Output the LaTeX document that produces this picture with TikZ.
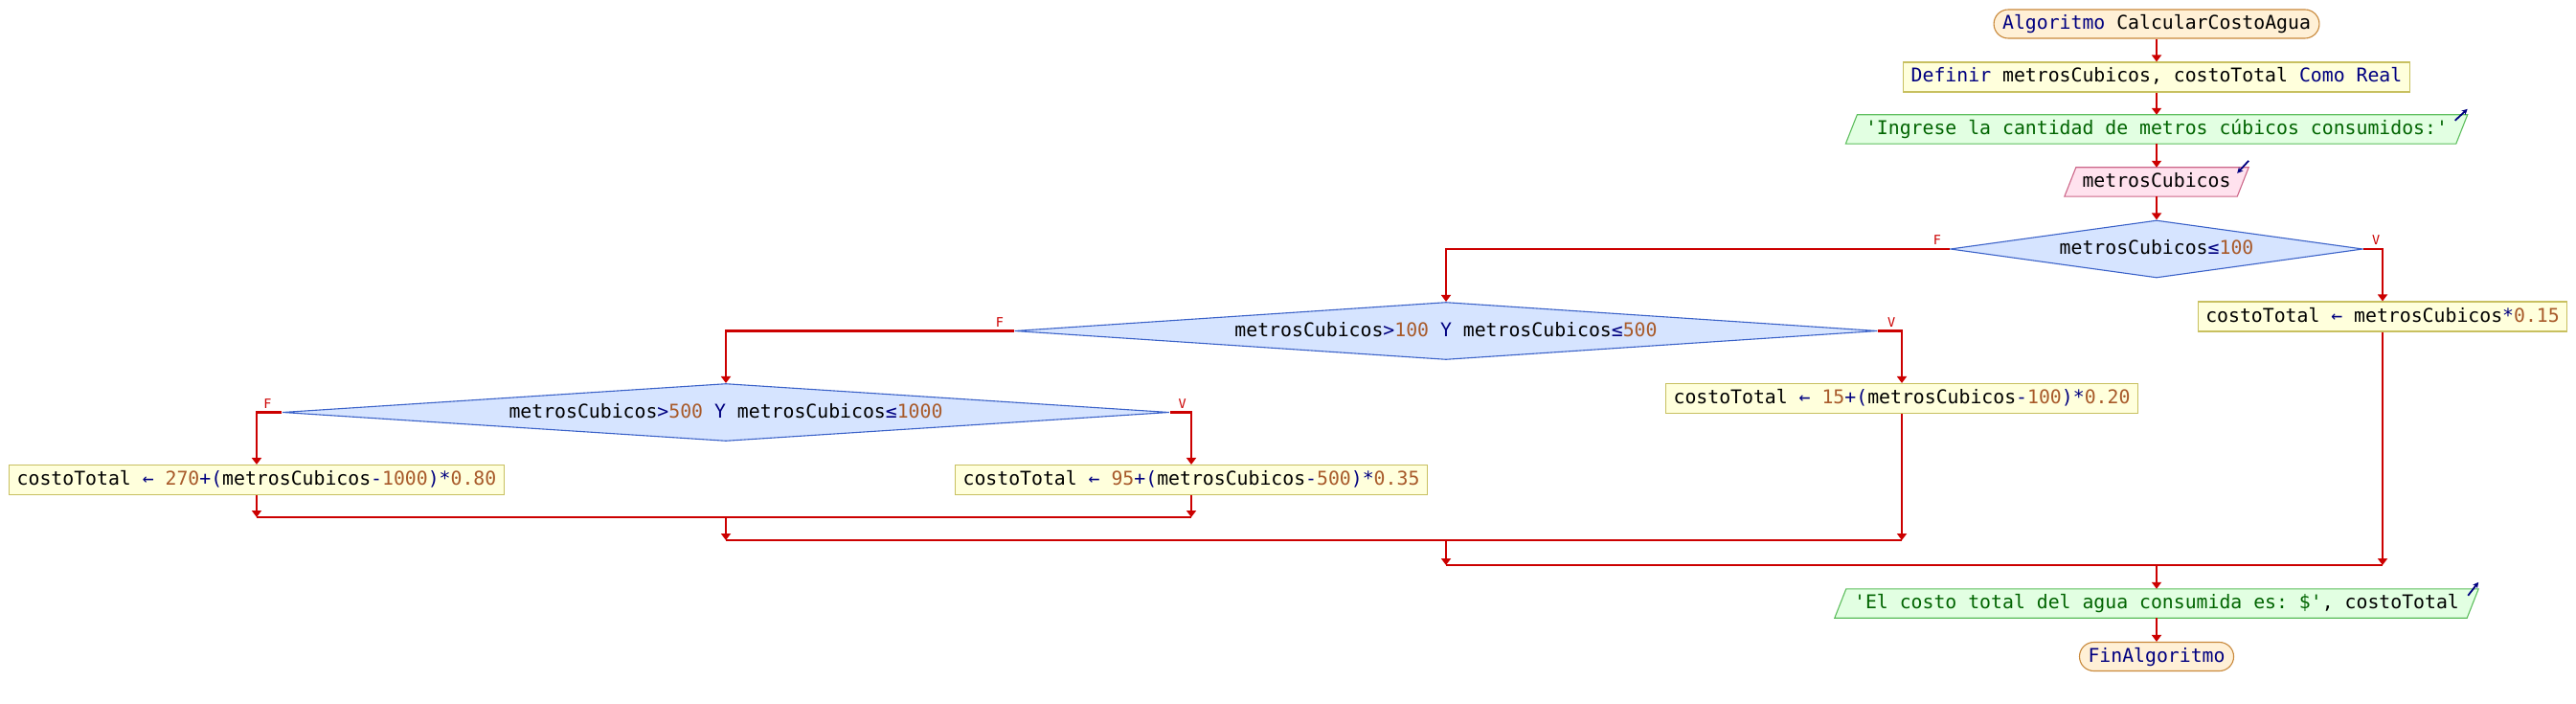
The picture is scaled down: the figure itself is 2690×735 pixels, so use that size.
\documentclass[tikz,border=0pt]{standalone}
\usepackage{fontspec}
\setmonofont{DejaVu Sans Mono}
\usetikzlibrary{arrows.meta,backgrounds,shapes.geometric}
\definecolor{kwc}{HTML}{000080}
\definecolor{numc}{HTML}{A85A2A}
\definecolor{strc}{HTML}{006400}
\definecolor{flowc}{HTML}{CC0000}
\definecolor{termf}{HTML}{FFF0D6}
\definecolor{termb}{HTML}{C8883A}
\definecolor{procf}{HTML}{FFFFDC}
\definecolor{procb}{HTML}{C8C060}
\definecolor{outf}{HTML}{E2FFE2}
\definecolor{outb}{HTML}{5DBE5D}
\definecolor{inf}{HTML}{FFE2EE}
\definecolor{inb}{HTML}{CC6688}
\definecolor{decf}{HTML}{D6E4FF}
\definecolor{decb}{HTML}{3B62C9}
\newcommand\kwtxt[1]{\textcolor{kwc}{#1}}
\newcommand\numtxt[1]{\textcolor{numc}{#1}}
\newcommand\strtxt[1]{\textcolor{strc}{#1}}
\newcommand\iopara[3]{%
  \begin{scope}[on background layer]
  \filldraw[fill=#2,draw=#3,line width=1.1pt] ([xshift=-6pt]#1.south west) -- ([xshift=6pt]#1.north west) -- ([xshift=6pt]#1.north east) -- ([xshift=-6pt]#1.south east) -- cycle;
  \end{scope}}
\begin{document}
\begin{tikzpicture}[x=1pt,y=-1pt,
  every node/.style={font=\ttfamily\fontsize{19.8}{22}\selectfont, text height=15pt, text depth=4pt},
  term/.style={draw=termb, fill=termf, line width=1.1pt, rounded corners=15pt, minimum height=30pt, inner xsep=9pt, inner ysep=0pt},
  proc/.style={draw=procb, fill=procf, line width=1.1pt, minimum height=31pt, inner xsep=8pt, inner ysep=0pt},
  io/.style={minimum height=30pt, inner xsep=0pt, inner ysep=0pt},
  dec/.style={shape=diamond, draw=decb, fill=decf, line width=1.1pt, inner sep=0pt, minimum height=60pt},
  flow/.style={draw=flowc, line width=2.8pt, -{Triangle[width=10pt,length=7pt]}},
  link/.style={draw=flowc, line width=2.8pt},
  lbl/.style={text=flowc, font=\ttfamily\fontsize{13.5}{14}\selectfont, text height=10pt, text depth=0pt, inner sep=0pt},
  icon/.style={draw=kwc, line width=1.8pt, -{Stealth[length=6pt,width=6pt]}}
]
\begin{scope}[on background layer]
\fill[white] (0,0) rectangle (2690,735);
\end{scope}
\useasboundingbox (0,0) rectangle (2690,735);

% main column
\node[term] (start) at (2252,25) {\kwtxt{Algoritmo} CalcularCostoAgua};
\node[proc] (def) at (2252,80.5) {\kwtxt{Definir} metrosCubicos, costoTotal \kwtxt{Como} \kwtxt{Real}};
\node[io, minimum width=637pt] (out1) at (2252,135) {\strtxt{'Ingrese la cantidad de metros cúbicos consumidos:'}};
\iopara{out1}{outf}{outb}
\node[io, minimum width=180pt] (inp) at (2252,190) {metrosCubicos};
\iopara{inp}{inf}{inb}
\node[dec, aspect=8, minimum width=431pt] (d1) at (2252,260) {metrosCubicos\kwtxt{≤}\numtxt{100}};
\node[proc] (b1) at (2488,330.5) {costoTotal \kwtxt{←} metrosCubicos\kwtxt{*}\numtxt{0.15}};
\node[dec, aspect=16, minimum width=901pt] (d2) at (1510,345.5) {metrosCubicos\kwtxt{>}\numtxt{100} \kwtxt{Y} metrosCubicos\kwtxt{≤}\numtxt{500}};
\node[proc] (b2) at (1986,416) {costoTotal \kwtxt{←} \numtxt{15}\kwtxt{+(}metrosCubicos\kwtxt{-}\numtxt{100}\kwtxt{)*}\numtxt{0.20}};
\node[dec, aspect=16, minimum width=926pt] (d3) at (758,430.5) {metrosCubicos\kwtxt{>}\numtxt{500} \kwtxt{Y} metrosCubicos\kwtxt{≤}\numtxt{1000}};
\node[proc] (b3) at (268,501) {costoTotal \kwtxt{←} \numtxt{270}\kwtxt{+(}metrosCubicos\kwtxt{-}\numtxt{1000}\kwtxt{)*}\numtxt{0.80}};
\node[proc] (b4) at (1244,501) {costoTotal \kwtxt{←} \numtxt{95}\kwtxt{+(}metrosCubicos\kwtxt{-}\numtxt{500}\kwtxt{)*}\numtxt{0.35}};
\node[io, minimum width=660pt] (out2) at (2252,630) {\strtxt{'El costo total del agua consumida es: \$'}, costoTotal};
\iopara{out2}{outf}{outb}
\node[term] (fin) at (2252,685.5) {\kwtxt{FinAlgoritmo}};

% I/O icons
\draw[icon] ([xshift=6pt]out1.north east) ++(-13,6) -- ++(13,-12);
\draw[icon] ([xshift=6pt]inp.north east) ++(0,-7) -- ++(-12,13);
\draw[icon] ([xshift=6pt]out2.north east) ++(-11,7) -- ++(11,-14);

% branch labels
\node[lbl, anchor=south] (f1) at ([xshift=-13pt,yshift=4pt]d1.west) {F};
\node[lbl, anchor=south] (v1) at ([xshift=13pt,yshift=4pt]d1.east) {V};
\node[lbl, anchor=south] (f2) at ([xshift=-15pt,yshift=4pt]d2.west) {F};
\node[lbl, anchor=south] (v2) at ([xshift=14pt,yshift=4pt]d2.east) {V};
\node[lbl, anchor=south] (f3) at ([xshift=-15pt,yshift=4pt]d3.west) {F};
\node[lbl, anchor=south] (v3) at ([xshift=13pt,yshift=4pt]d3.east) {V};

% join points
\coordinate (j1) at (758,540);
\coordinate (j2) at (1510,564);
\coordinate (j3) at (2252,590);

% connectors
\draw[flow] (start) -- (def);
\draw[flow] (def) -- (out1);
\draw[flow] (out1) -- (inp);
\draw[flow] (inp) -- (d1);
\draw[flow] (d1.west) -| (d2.north);
\draw[flow] (d1.east) -| (b1.north);
\draw[flow] (d2.west) -| (d3.north);
\draw[flow] (d2.east) -| (b2.north);
\draw[flow] (d3.west) -| (b3.north);
\draw[flow] (d3.east) -| (b4.north);

\draw[flow] (b3.south) -- (b3.south |- j1);
\draw[flow] (b4.south) -- (b4.south |- j1);
\draw[link] (b3.south |- j1) -- (b4.south |- j1);
\draw[flow] (j1) -- (j1 |- j2);

\draw[flow] (b2.south) -- (b2.south |- j2);
\draw[link] (j1 |- j2) -- (b2.south |- j2);
\draw[flow] (j2) -- (j2 |- j3);

\draw[flow] (b1.south) -- (b1.south |- j3);
\draw[link] (j2 |- j3) -- (b1.south |- j3);
\draw[flow] (j3) -- (out2);
\draw[flow] (out2) -- (fin);
\end{tikzpicture}
\end{document}
